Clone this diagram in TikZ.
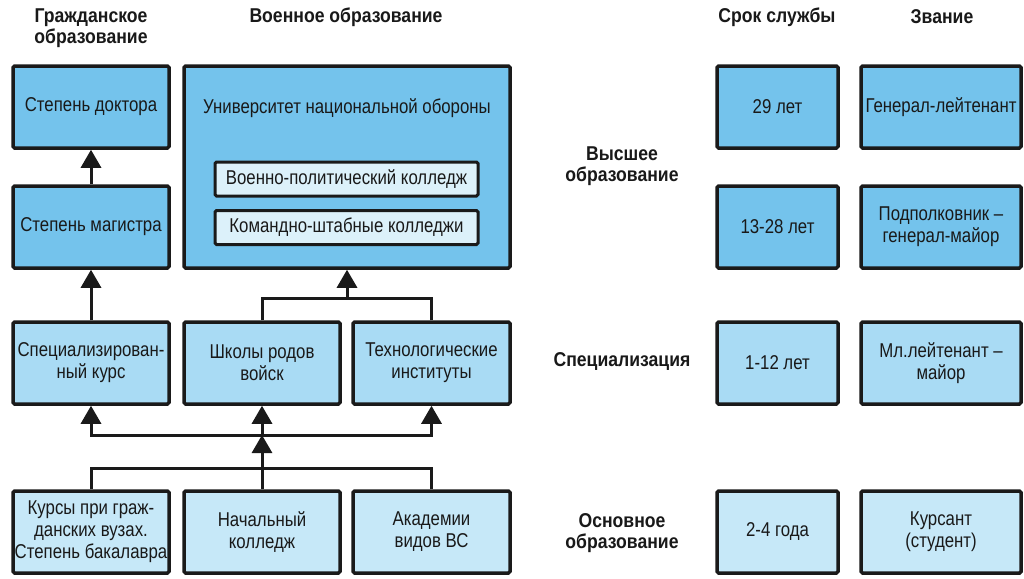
\documentclass[tikz,border=0pt]{standalone}
\usepackage{fontspec}
\setmainfont{Liberation Sans}[FakeStretch=0.84]
\newfontfamily\hdrfont{Liberation Sans}[FakeStretch=0.88]
\usetikzlibrary{arrows.meta}
\definecolor{bluedark}{HTML}{74C3EC}
\definecolor{bluemid}{HTML}{A9DBF4}
\definecolor{bluelight}{HTML}{C6E8F8}
\definecolor{blueinner}{HTML}{DCF1FA}
\definecolor{edge}{HTML}{1A1A1A}
\tikzset{
  box/.style={draw=edge, line width=3.5pt, rounded corners=1.5pt, align=center,
    inner sep=0pt, font=\fontsize{20}{22}\selectfont, text=black!90},
  inbox/.style={box, line width=3pt, fill=blueinner, minimum width=263pt, minimum height=34pt},
  hdr/.style={align=center, font=\hdrfont\bfseries\fontsize{20}{21}\selectfont, text=black!90},
  conn/.style={draw=edge, line width=3pt},
  arr/.style={conn, -{Triangle[width=20pt,length=18pt]}},
}
\begin{document}
\begin{tikzpicture}[x=1pt,y=-1pt]
\useasboundingbox[fill=white] (0,0) rectangle (1024,578);
% headers
\node[hdr] (hciv) at (91,28) {Гражданское\\образование};
\node[hdr] (hmil) at (346,17) {Военное образование};
\node[hdr] (hsrok) at (777,17) {Срок службы};
\node[hdr] (hzv) at (942,17) {Звание};
\node[hdr] (hhigh) at (622,166) {Высшее\\образование};
\node[hdr] (hspec) at (622,362) {Специализация};
\node[hdr] (hbase) at (622,533) {Основное\\образование};
% row 1 & 2
\node[box, fill=bluedark, minimum width=156pt, minimum height=82pt] (doc) at (91,107) {\raisebox{4pt}{Степень доктора}};
\node[box, fill=bluedark, minimum width=156pt, minimum height=82pt] (mag) at (91,227) {Степень магистра};
\node[box, fill=bluedark, minimum width=326pt, minimum height=202pt] (univ) at (347,167) {};
\node[font=\fontsize{20}{22}\selectfont, text=black!90] (univt) at (347,108) {Университет национальной обороны};
\node[inbox] (vpk) at (346.5,179) {Военно-политический колледж};
\node[inbox] (ksk) at (346.5,227.5) {Командно-штабные колледжи};
\node[box, fill=bluedark, minimum width=121pt, minimum height=82pt] (s1) at (777.5,107) {29 лет};
\node[box, fill=bluedark, minimum width=160pt, minimum height=82pt] (z1) at (941,107) {Генерал-лейтенант};
\node[box, fill=bluedark, minimum width=121pt, minimum height=82pt] (s2) at (777.5,227) {13-28 лет};
\node[box, fill=bluedark, minimum width=160pt, minimum height=82pt] (z2) at (941,227) {Подполковник –\\генерал-майор};
% row 3
\node[box, fill=bluemid, minimum width=156pt, minimum height=82pt] (spec) at (91,363) {Специализирован-\\ный курс};
\node[box, fill=bluemid, minimum width=156pt, minimum height=82pt] (shk) at (262,363) {Школы родов\\войск};
\node[box, fill=bluemid, minimum width=157pt, minimum height=82pt] (tech) at (431.5,363) {Технологические\\институты};
\node[box, fill=bluemid, minimum width=121pt, minimum height=82pt] (s3) at (777.5,363) {1-12 лет};
\node[box, fill=bluemid, minimum width=160pt, minimum height=82pt] (z3) at (941,363) {Мл.лейтенант –\\майор};
% row 4
\node[box, fill=bluelight, minimum width=156pt, minimum height=82pt] (kurs) at (91,532) {Курсы при граж-\\данских вузах.\\Степень бакалавра};
\node[box, fill=bluelight, minimum width=156pt, minimum height=82pt] (nach) at (262,532) {Начальный\\колледж};
\node[box, fill=bluelight, minimum width=157pt, minimum height=82pt] (akad) at (431.5,532) {Академии\\видов ВС};
\node[box, fill=bluelight, minimum width=121pt, minimum height=82pt] (s4) at (777.5,532) {2-4 года};
\node[box, fill=bluelight, minimum width=160pt, minimum height=82pt] (z4) at (941,532) {Курсант\\(студент)};
% connectors
\coordinate (j1) at (347,298);
\coordinate (j2) at (262,468);
\coordinate (j3) at (262,435);
\draw[arr] (mag.north) -- (doc.south);
\draw[arr] (spec.north) -- (mag.south);
\draw[conn] (shk.north) |- (j1);
\draw[conn] (tech.north) |- (j1);
\draw[arr] (j1) -- (univ.south);
\draw[conn] (kurs.north) |- (j2);
\draw[conn] (akad.north) |- (j2);
\draw[arr] (nach.north) -- (j3);
\draw[arr] (j3) -| (spec.south);
\draw[arr] (j3) -| (tech.south);
\draw[arr] (j3) -- (shk.south);
\end{tikzpicture}
\end{document}
